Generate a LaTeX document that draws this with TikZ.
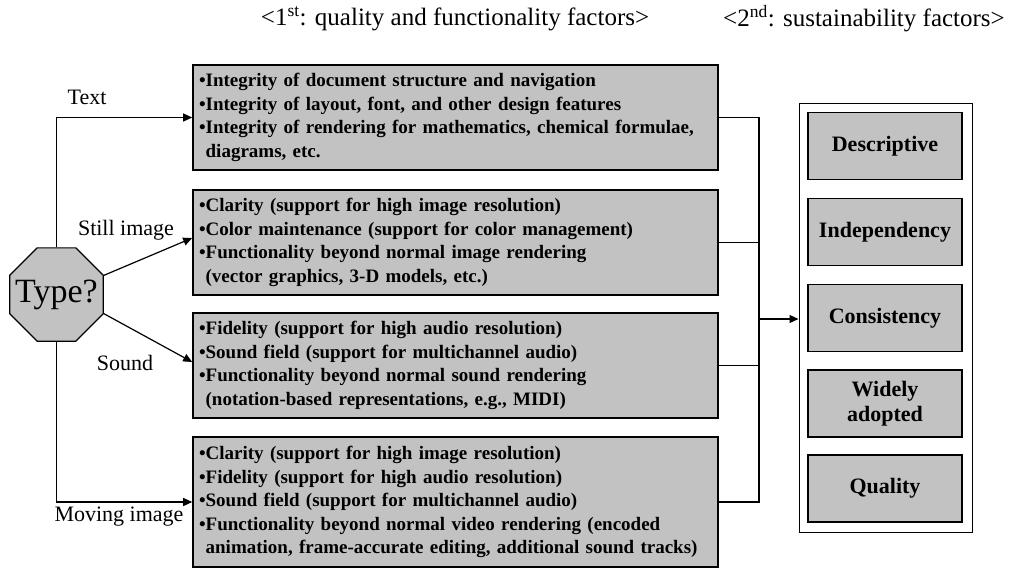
\documentclass[tikz,border=0pt]{standalone}
\usepackage{fontspec}
\setmainfont{Liberation Serif}
\usepackage{xcolor}
\usetikzlibrary{shapes.geometric,arrows.meta}
\definecolor{boxgray}{HTML}{C2C2C2}
\def\bul{\textbullet}
\def\ind{\hphantom{\textbullet}}

\begin{document}
\begin{tikzpicture}[x=1pt, y=-1pt,
		factbox/.style={draw, line width=1.6pt, fill=boxgray, text width=513pt, minimum width=525pt, inner xsep=6pt, align=left, font=\bfseries\fontsize{19}{23.5}\selectfont},
		susbox/.style={draw, line width=1.6pt, fill=boxgray, minimum width=154pt, minimum height=67pt, align=center, font=\bfseries\fontsize{22}{25}\selectfont},
		lbl/.style={font=\fontsize{22}{26}\selectfont},
		arr/.style={-{Triangle[length=9pt,width=8pt]}, line width=1.2pt},
	]
	\useasboundingbox (0,0) rectangle (1012,568);
	% headers
	\node[lbl, font=\fontsize{25}{28}\selectfont] (head1) at (455,19) {<1\textsuperscript{st}: quality and functionality factors>};
	\node[lbl, font=\fontsize{25}{28}\selectfont] (head2) at (864,19) {<2\textsuperscript{nd}: sustainability factors>};
	% decision
	\node[draw, regular polygon, regular polygon sides=8, minimum size=101pt, inner sep=0pt, fill=boxgray, line width=1.2pt,
		label={[font=\fontsize{34}{40}\selectfont]center:Type?}] (type) at (56.5,294.5) {};
	% 1st factors
	\node[factbox, minimum height=105pt] (text) at (455.5,117.5) {\bul Integrity of document structure and navigation\\ \bul Integrity of layout, font, and other design features\\ \bul Integrity of rendering for mathematics, chemical formulae,\\ \ind diagrams, etc.};
	\node[factbox, minimum height=105pt] (still) at (455.5,242.5) {\bul Clarity (support for high image resolution)\\ \bul Color maintenance (support for color management)\\ \bul Functionality beyond normal image rendering\\ \ind (vector graphics, 3-D models, etc.)};
	\node[factbox, minimum height=105pt] (sound) at (455.5,365.5) {\bul Fidelity (support for high audio resolution)\\ \bul Sound field (support for multichannel audio)\\ \bul Functionality beyond normal sound rendering\\ \ind (notation-based representations, e.g., MIDI)};
	\node[factbox, minimum height=130pt] (moving) at (455.5,502) {\bul Clarity (support for high image resolution)\\ \bul Fidelity (support for high audio resolution)\\ \bul Sound field (support for multichannel audio)\\ \bul Functionality beyond normal video rendering (encoded\\ \ind animation, frame-accurate editing, additional sound tracks)};
	% 2nd factors
	\node[draw, line width=1pt, minimum width=173pt, minimum height=429pt] (sus) at (885.5,317.5) {};
	\node[susbox] (desc) at (885,146) {Descriptive};
	\node[susbox] (indep) at (885,232) {Independency};
	\node[susbox] (cons) at (885,318) {Consistency};
	\node[susbox] (wide) at (885,403.5) {Widely\\adopted};
	\node[susbox] (qual) at (885,488.5) {Quality};
	% branches
	\draw[arr] (type.north) |- (text.west);
	\draw[arr] (type.22.5) -- ([yshift=4.5pt]still.west);
	\draw[arr] (type.-22.5) -- ([yshift=3.5pt]sound.west);
	\draw[arr] (type.south) |- (moving.west);
	\node[lbl] (ltext) at (87,97) {Text};
	\node[lbl] (lstill) at (126,230) {Still image};
	\node[lbl] (lsound) at (125,363) {Sound};
	\node[lbl] (lmoving) at (119,517) {Moving image};
	% bracket
	\coordinate (join) at (759,319);
	\draw[line width=1.2pt] (text.east) -| (join) |- (moving.east);
	\draw[line width=1.2pt] (still.east) -- (still.east -| join);
	\draw[line width=1.2pt] (sound.east) -- (sound.east -| join);
	\draw[arr] (join) -- (join -| sus.west);
\end{tikzpicture}
\end{document}
